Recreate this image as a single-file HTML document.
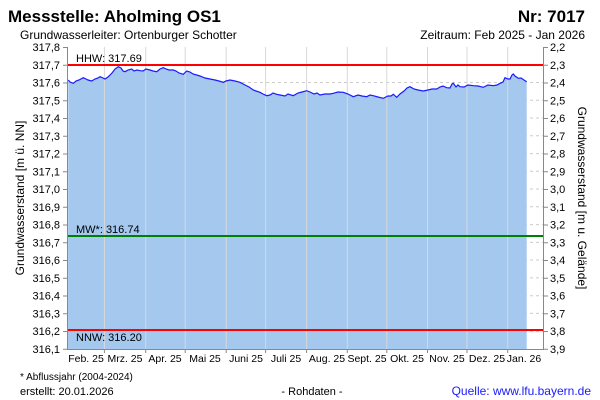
<!DOCTYPE html>
<html><head><meta charset="utf-8"><style>
body{margin:0;background:#fff}
svg{display:block;font-family:"Liberation Sans",sans-serif}
</style></head><body>
<svg width="600" height="400" xmlns="http://www.w3.org/2000/svg">
<text x="8" y="22" font-size="17" font-weight="bold">Messstelle: Aholming OS1</text>
<text x="585" y="22" font-size="17" font-weight="bold" text-anchor="end">Nr: 7017</text>
<text x="20" y="39" font-size="12">Grundwasserleiter:   Ortenburger Schotter</text>
<text x="585" y="39" font-size="12" text-anchor="end">Zeitraum: Feb 2025 - Jan 2026</text>
<g stroke="#ccc" stroke-dasharray="3,3" stroke-width="1">
<line x1="68" x2="543" y1="64.8" y2="64.8"/><line x1="68" x2="543" y1="82.5" y2="82.5"/><line x1="68" x2="543" y1="100.3" y2="100.3"/><line x1="68" x2="543" y1="118" y2="118"/><line x1="68" x2="543" y1="135.8" y2="135.8"/><line x1="68" x2="543" y1="153.6" y2="153.6"/><line x1="68" x2="543" y1="171.3" y2="171.3"/><line x1="68" x2="543" y1="189" y2="189"/><line x1="68" x2="543" y1="206.8" y2="206.8"/><line x1="68" x2="543" y1="224.6" y2="224.6"/><line x1="68" x2="543" y1="242.4" y2="242.4"/><line x1="68" x2="543" y1="260" y2="260"/><line x1="68" x2="543" y1="277.9" y2="277.9"/><line x1="68" x2="543" y1="295.7" y2="295.7"/><line x1="68" x2="543" y1="313.4" y2="313.4"/><line x1="68" x2="543" y1="331.2" y2="331.2"/>
</g>
<polygon fill="#a5c8ef" points="68,349 68.3,80 70,82 73.3,83.3 76,81 79,80 83.3,77.7 86,79 88,80 91.7,81 95,79 98,78 100,76.7 103,78 105,79 108,77 112,73 115,69 118.3,66.7 121,68 123,71 125,71.7 128,70 131.7,69 134,71 137,70 140,70.7 143,71 146,69 150,70 153,71 156.7,71.7 160,69 163.3,67.7 166,69 169,70 173.3,70 176,71 179,73 183.3,74.3 186.7,71 190,72 193,74 196.7,75 200,76 205,78 210,79 215,80 219,81 223.3,82.3 226,81 230,80 235,81 240,82.3 245,85 249,87 253.3,90 256,91 260,92.3 263,94 266.7,95.7 270,95 273,93 276.7,94.3 280,95 285,96 288,94 293.3,95.7 298,93 302,92 306.7,90.7 310,92 314,94 317,93 320,95 325,94 330,94 333.3,93.3 338,92 343.3,92.3 348,94 353.3,96.7 358,95 362,96 366.7,96.7 370,95 373.3,95.7 378,97 383.3,98.3 388,96 391,96 393.3,94.3 396.7,97.3 400,94 404,91 407,88 410,86.7 414,89 418,90 423.3,91 428,90 432,89 436.7,89 440,87 443,86 446.7,87.7 450,88 452,84 453.3,83.3 456,87 458,85 460,86.7 464,87 468,85 473.3,85.7 478,86 483.3,87.3 488,85 493.3,85.7 497,85 500,83.3 503,82 505,77.7 508,79 510,79 512,75 513.3,74 515,76 518.3,78.3 521,78 524,80 526.7,81.7 526.7,349"/>
<g stroke="#d8d8d8" stroke-width="1">
<line x1="104.4" x2="104.4" y1="47" y2="349"/><line x1="145.7" x2="145.7" y1="47" y2="349"/><line x1="185.2" x2="185.2" y1="47" y2="349"/><line x1="226.2" x2="226.2" y1="47" y2="349"/><line x1="265.6" x2="265.6" y1="47" y2="349"/><line x1="306.6" x2="306.6" y1="47" y2="349"/><line x1="347.3" x2="347.3" y1="47" y2="349"/><line x1="386.8" x2="386.8" y1="47" y2="349"/><line x1="427.5" x2="427.5" y1="47" y2="349"/><line x1="467" x2="467" y1="47" y2="349"/><line x1="507.7" x2="507.7" y1="47" y2="349"/>
</g>
<polyline fill="none" stroke="#1a1aff" stroke-width="1.2" points="68.3,80 70,82 73.3,83.3 76,81 79,80 83.3,77.7 86,79 88,80 91.7,81 95,79 98,78 100,76.7 103,78 105,79 108,77 112,73 115,69 118.3,66.7 121,68 123,71 125,71.7 128,70 131.7,69 134,71 137,70 140,70.7 143,71 146,69 150,70 153,71 156.7,71.7 160,69 163.3,67.7 166,69 169,70 173.3,70 176,71 179,73 183.3,74.3 186.7,71 190,72 193,74 196.7,75 200,76 205,78 210,79 215,80 219,81 223.3,82.3 226,81 230,80 235,81 240,82.3 245,85 249,87 253.3,90 256,91 260,92.3 263,94 266.7,95.7 270,95 273,93 276.7,94.3 280,95 285,96 288,94 293.3,95.7 298,93 302,92 306.7,90.7 310,92 314,94 317,93 320,95 325,94 330,94 333.3,93.3 338,92 343.3,92.3 348,94 353.3,96.7 358,95 362,96 366.7,96.7 370,95 373.3,95.7 378,97 383.3,98.3 388,96 391,96 393.3,94.3 396.7,97.3 400,94 404,91 407,88 410,86.7 414,89 418,90 423.3,91 428,90 432,89 436.7,89 440,87 443,86 446.7,87.7 450,88 452,84 453.3,83.3 456,87 458,85 460,86.7 464,87 468,85 473.3,85.7 478,86 483.3,87.3 488,85 493.3,85.7 497,85 500,83.3 503,82 505,77.7 508,79 510,79 512,75 513.3,74 515,76 518.3,78.3 521,78 524,80 526.7,81.7"/>
<line x1="68" x2="543" y1="65" y2="65" stroke="#f00" stroke-width="2"/>
<line x1="68" x2="543" y1="236" y2="236" stroke="#008000" stroke-width="2"/>
<line x1="68" x2="543" y1="330" y2="330" stroke="#f00" stroke-width="2"/>
<g font-size="11"><text x="76" y="62">HHW: 317.69</text><text x="76" y="233">MW*: 316.74</text><text x="76" y="341">NNW: 316.20</text></g>
<g stroke="#888" stroke-width="1" fill="none"><path d="M67.5,47V349.5H543.5V47"/>
<path d="M63,47.5h5M63,65.3h5M63,83h5M63,100.8h5M63,118.5h5M63,136.3h5M63,154h5M63,171.8h5M63,189.5h5M63,207.3h5M63,225h5M63,242.8h5M63,260.5h5M63,278.3h5M63,296h5M63,313.8h5M63,331.5h5M63,349.3h5"/>
<path d="M543,47.5h5M543,65.3h5M543,83h5M543,100.8h5M543,118.5h5M543,136.3h5M543,154h5M543,171.8h5M543,189.5h5M543,207.3h5M543,225h5M543,242.8h5M543,260.5h5M543,278.3h5M543,296h5M543,313.8h5M543,331.5h5M543,349.3h5"/>
<path d="M104.4,349v4M145.7,349v4M185.2,349v4M226.2,349v4M265.6,349v4M306.6,349v4M347.3,349v4M386.8,349v4M427.5,349v4M467,349v4M507.7,349v4"/></g>
<g font-size="11" text-anchor="end">
<text x="60" y="51">317,8</text><text x="60" y="69">317,7</text><text x="60" y="86.5">317,6</text><text x="60" y="104.3">317,5</text><text x="60" y="122">317,4</text><text x="60" y="139.8">317,3</text><text x="60" y="157.6">317,2</text><text x="60" y="175.3">317,1</text><text x="60" y="193">317,0</text><text x="60" y="210.8">316,9</text><text x="60" y="228.6">316,8</text><text x="60" y="246.4">316,7</text><text x="60" y="264">316,6</text><text x="60" y="281.9">316,5</text><text x="60" y="299.7">316,4</text><text x="60" y="317.4">316,3</text><text x="60" y="335.2">316,2</text><text x="60" y="353">316,1</text>
</g>
<g font-size="11">
<text x="550" y="51">2,2</text><text x="550" y="69">2,3</text><text x="550" y="86.5">2,4</text><text x="550" y="104.3">2,5</text><text x="550" y="122">2,6</text><text x="550" y="139.8">2,7</text><text x="550" y="157.6">2,8</text><text x="550" y="175.3">2,9</text><text x="550" y="193">3,0</text><text x="550" y="210.8">3,1</text><text x="550" y="228.6">3,2</text><text x="550" y="246.4">3,3</text><text x="550" y="264">3,4</text><text x="550" y="281.9">3,5</text><text x="550" y="299.7">3,6</text><text x="550" y="317.4">3,7</text><text x="550" y="335.2">3,8</text><text x="550" y="353">3,9</text>
</g>
<g font-size="10.5" text-anchor="middle">
<text x="86" y="362">Feb. 25</text><text x="125" y="362">Mrz. 25</text><text x="165" y="362">Apr. 25</text><text x="205" y="362">Mai 25</text><text x="246" y="362">Juni 25</text><text x="286" y="362">Juli 25</text><text x="327" y="362">Aug. 25</text><text x="367" y="362">Sept. 25</text><text x="407" y="362">Okt. 25</text><text x="447" y="362">Nov. 25</text><text x="487" y="362">Dez. 25</text><text x="524" y="362">Jan. 26</text>
</g>
<text transform="translate(24,198) rotate(-90)" font-size="12" text-anchor="middle">Grundwasserstand [m ü. NN]</text>
<text transform="translate(578,198) rotate(90)" font-size="12" text-anchor="middle">Grundwasserstand [m u. Gelände]</text>
<text x="20" y="380" font-size="10">* Abflussjahr (2004-2024)</text>
<text x="20" y="395" font-size="11">erstellt:  20.01.2026</text>
<text x="312" y="395" font-size="11" text-anchor="middle">- Rohdaten -</text>
<text x="591" y="395" font-size="12" fill="#1a1aff" text-anchor="end">Quelle: www.lfu.bayern.de</text>
</svg>
</body></html>
